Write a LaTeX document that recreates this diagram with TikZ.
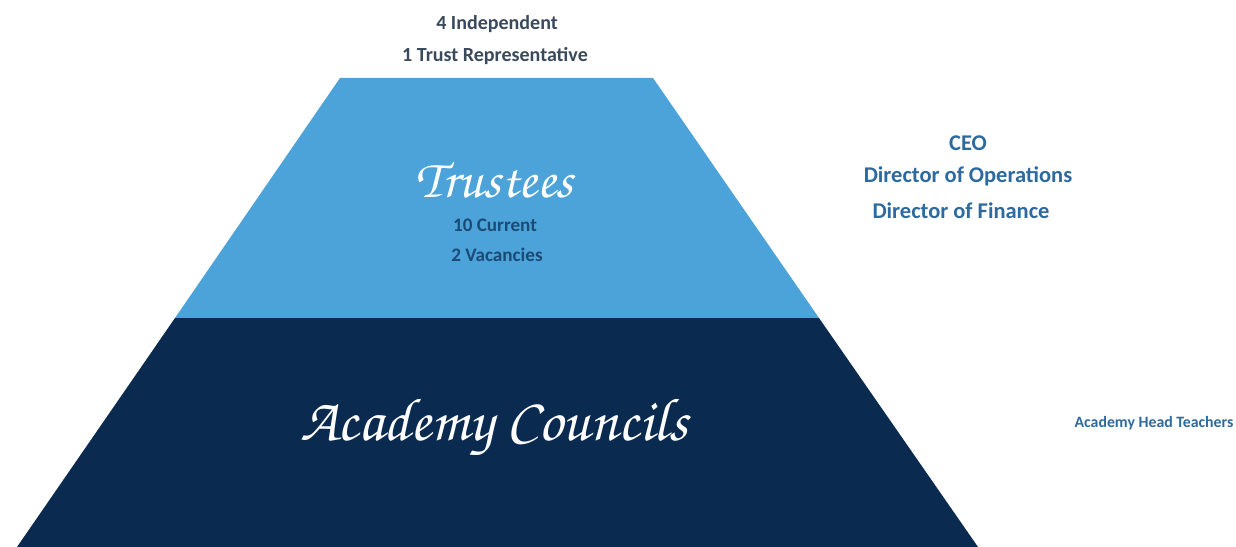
\documentclass[tikz,border=0pt]{standalone}
\usepackage{fontspec}
\setmainfont{Carlito}
\usepackage{tikz}
\usetikzlibrary{positioning}

\definecolor{tierlight}{HTML}{4BA3D9}
\definecolor{tierdark}{HTML}{0B2A50}
\definecolor{labelgrey}{HTML}{3A4A5C}
\definecolor{labelblue}{HTML}{2D6A9F}
\definecolor{innerblue}{HTML}{1B4A75}

\newcommand{\handfont}{\usefont{T1}{pzc}{mb}{it}}

\begin{document}
\begin{tikzpicture}[x=0.02cm, y=-0.02cm,
        node distance = 1.5mm and 3mm,
        every node/.style = {align=center, inner sep=0pt, font=\bfseries},
        topnote/.style = {text=labelgrey, font=\bfseries\fontsize{11.4}{13}\selectfont},
        sidenote/.style = {text=labelblue, font=\bfseries\fontsize{12.8}{14}\selectfont},
        tiernote/.style = {text=innerblue, font=\bfseries\fontsize{10.9}{12}\selectfont},
        tiertitle/.style = {text=white, font=\handfont\fontsize{31}{33}\selectfont},
    ]
        \useasboundingbox[fill=white] (0,0) rectangle (1236,547);

        % the two tiers
        \fill[tierlight] (340,78) -- (653,78) -- (819,318) -- (175,318) -- cycle;
        \fill[tierdark] (175,318) -- (819,318) -- (978,547) -- (17,547) -- cycle;

        % above the top tier
        \node[topnote] (indep) at (497,24) {4 Independent};
        \node[topnote] (rep) at (495,56) {1 Trust Representative};

        % trustees tier
        \node[tiertitle] (trustees) at (494,180) {Trustees};
        \node[tiernote] (current) at (495,225) {10 Current};
        \node[tiernote] (vacant) at (497,255) {2 Vacancies};

        % councils tier
        \node[tiertitle, font=\handfont\fontsize{34.5}{36}\selectfont] (councils) at (494,428) {Academy Councils};

        % executive team
        \node[sidenote] (ceo) at (968,143) {CEO};
        \node[sidenote] (ops) at (968,176) {Director of Operations};
        \node[sidenote] (fin) at (961,211) {Director of Finance};

        \node[sidenote, font=\bfseries\fontsize{9}{11}\selectfont] (heads) at (1154,423) {Academy Head Teachers};
\end{tikzpicture}
\end{document}
